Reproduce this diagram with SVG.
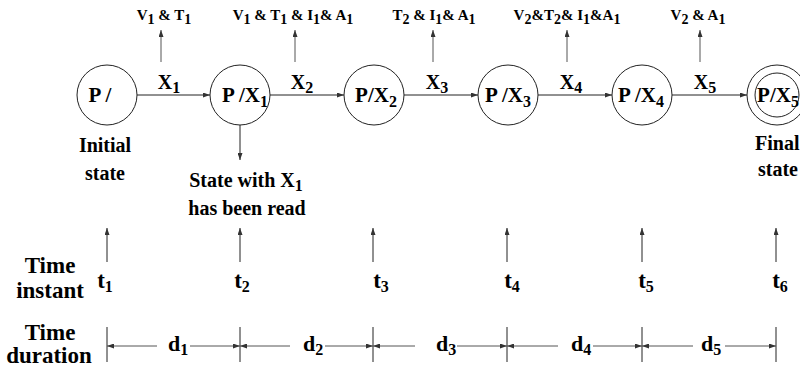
<svg xmlns="http://www.w3.org/2000/svg" width="800" height="369" viewBox="0 0 800 369">
<defs>
<marker id="ah" markerWidth="7" markerHeight="5" refX="7" refY="2.5" orient="auto" markerUnits="userSpaceOnUse">
<path d="M0,0 L7,2.5 L0,5 z" fill="#333"/>
</marker>
</defs>
<style>
text{font-family:"Liberation Serif","DejaVu Serif",serif;font-weight:bold;fill:#000}
.st{fill:#fff;stroke:#222;stroke-width:1}
.nl{font-size:21px;text-anchor:middle}
.tl{font-size:15px;text-anchor:middle}
.xl{font-size:20px;text-anchor:middle}
.lb{font-size:20px;text-anchor:middle}
.dl{font-size:22px;text-anchor:middle}
.big{font-size:23px;text-anchor:middle}
.ti{font-size:23px;text-anchor:middle}
.sub{font-size:14px}
.sb{font-size:16px}
.c{stroke:#222;stroke-width:1;fill:none}
.a{marker-end:url(#ah)}
.g{stroke:#555}
</style>
<rect width="800" height="369" fill="#fff"/>

<g id="connectors">
<line class="c a" x1="137" y1="95" x2="210" y2="95"/>
<line class="c a" x1="270" y1="95" x2="344" y2="95"/>
<line class="c a" x1="404" y1="95" x2="478" y2="95"/>
<line class="c a" x1="538" y1="95" x2="612" y2="95"/>
<line class="c a" x1="672" y1="95" x2="747" y2="95"/>
<line class="c a g" x1="161" y1="62" x2="161" y2="30"/>
<line class="c a g" x1="295" y1="62" x2="295" y2="30"/>
<line class="c a g" x1="433" y1="62" x2="433" y2="30"/>
<line class="c a g" x1="567" y1="62" x2="567" y2="30"/>
<line class="c a g" x1="700" y1="62" x2="700" y2="30"/>
<line class="c a" x1="240" y1="125" x2="240" y2="160"/>
<line class="c a" x1="107" y1="262" x2="107" y2="228"/>
<line class="c a" x1="240" y1="262" x2="240" y2="228"/>
<line class="c a" x1="373" y1="262" x2="373" y2="228"/>
<line class="c a" x1="507" y1="262" x2="507" y2="228"/>
<line class="c a" x1="642" y1="262" x2="642" y2="228"/>
<line class="c a" x1="776" y1="262" x2="776" y2="228"/>
</g>

<g id="durations">
<g class="c">
<line x1="107" y1="327" x2="107" y2="362"/>
<line x1="240" y1="327" x2="240" y2="362"/>
<line x1="373" y1="327" x2="373" y2="362"/>
<line x1="507" y1="327" x2="507" y2="362"/>
<line x1="642" y1="327" x2="642" y2="362"/>
<line x1="776" y1="327" x2="776" y2="362"/>
</g>
<g class="c g">
<line x1="157" y1="346" x2="107" y2="346" marker-end="url(#ah)"/>
<line x1="190" y1="346" x2="240" y2="346" marker-end="url(#ah)"/>
<line x1="290" y1="346" x2="240" y2="346" marker-end="url(#ah)"/>
<line x1="325" y1="346" x2="373" y2="346" marker-end="url(#ah)"/>
<line x1="415" y1="346" x2="373" y2="346" marker-end="url(#ah)"/>
<line x1="457" y1="346" x2="507" y2="346" marker-end="url(#ah)"/>
<line x1="558" y1="346" x2="507" y2="346" marker-end="url(#ah)"/>
<line x1="593" y1="346" x2="642" y2="346" marker-end="url(#ah)"/>
<line x1="693" y1="346" x2="642" y2="346" marker-end="url(#ah)"/>
<line x1="725" y1="346" x2="776" y2="346" marker-end="url(#ah)"/>
</g>
<text class="dl" x="178" y="351">d<tspan class="sb" dy="4">1</tspan></text>
<text class="dl" x="313" y="351">d<tspan class="sb" dy="4">2</tspan></text>
<text class="dl" x="446" y="351">d<tspan class="sb" dy="4">3</tspan></text>
<text class="dl" x="581" y="351">d<tspan class="sb" dy="4">4</tspan></text>
<text class="dl" x="711" y="351">d<tspan class="sb" dy="4">5</tspan></text>
</g>

<g id="n1">
<circle class="st" cx="107" cy="95" r="30"/>
<text class="nl" x="100" y="102">P /</text>
</g>
<g id="n2">
<circle class="st" cx="240" cy="95" r="30"/>
<text class="nl" x="245" y="102">P /X<tspan class="sb" dy="5">1</tspan></text>
</g>
<g id="n3">
<circle class="st" cx="374" cy="95" r="30"/>
<text class="nl" x="376" y="102">P/X<tspan class="sb" dy="5">2</tspan></text>
</g>
<g id="n4">
<circle class="st" cx="508" cy="95" r="30"/>
<text class="nl" x="508" y="102">P /X<tspan class="sb" dy="5">3</tspan></text>
</g>
<g id="n5">
<circle class="st" cx="642" cy="95" r="30"/>
<text class="nl" x="641" y="102">P /X<tspan class="sb" dy="5">4</tspan></text>
</g>
<g id="n6">
<circle class="st" cx="777" cy="95" r="30"/>
<circle class="st" cx="777" cy="95" r="22"/>
<text class="nl" x="778" y="102">P/X<tspan class="sb" dy="5">5</tspan></text>
</g>

<g id="edge-labels">
<text class="xl" x="169" y="89">X<tspan class="sb" dy="4">1</tspan></text>
<text class="xl" x="302" y="89">X<tspan class="sb" dy="4">2</tspan></text>
<text class="xl" x="437" y="89">X<tspan class="sb" dy="4">3</tspan></text>
<text class="xl" x="571" y="89">X<tspan class="sb" dy="4">4</tspan></text>
<text class="xl" x="705" y="89">X<tspan class="sb" dy="4">5</tspan></text>
</g>

<g id="outputs">
<text class="tl" x="164" y="20">V<tspan class="sub" dy="4">1</tspan><tspan dy="-4"> &amp; T</tspan><tspan class="sub" dy="4">1</tspan></text>
<text class="tl" x="293" y="20">V<tspan class="sub" dy="4">1</tspan><tspan dy="-4"> &amp; T</tspan><tspan class="sub" dy="4">1</tspan><tspan dy="-4"> &amp; I</tspan><tspan class="sub" dy="4">1</tspan><tspan dy="-4">&amp; A</tspan><tspan class="sub" dy="4">1</tspan></text>
<text class="tl" x="434" y="20">T<tspan class="sub" dy="4">2</tspan><tspan dy="-4"> &amp; I</tspan><tspan class="sub" dy="4">1</tspan><tspan dy="-4">&amp; A</tspan><tspan class="sub" dy="4">1</tspan></text>
<text class="tl" x="567" y="20">V<tspan class="sub" dy="4">2</tspan><tspan dy="-4">&amp;T</tspan><tspan class="sub" dy="4">2</tspan><tspan dy="-4">&amp; I</tspan><tspan class="sub" dy="4">1</tspan><tspan dy="-4">&amp;A</tspan><tspan class="sub" dy="4">1</tspan></text>
<text class="tl" x="698" y="20">V<tspan class="sub" dy="4">2</tspan><tspan dy="-4"> &amp; A</tspan><tspan class="sub" dy="4">1</tspan></text>
</g>

<g id="state-labels">
<text class="lb" x="105" y="152">Initial</text>
<text class="lb" x="105" y="180">state</text>
<text class="lb" x="246" y="187">State with X<tspan class="sb" dy="4">1</tspan></text>
<text class="lb" x="247" y="215">has been read</text>
<text class="lb" x="755" y="150" style="text-anchor:start">Final</text>
<text class="lb" x="758" y="176" style="text-anchor:start">state</text>
</g>

<g id="time-labels">
<text class="big" x="50" y="273">Time</text>
<text class="big" x="50" y="298">instant</text>
<text class="big" x="50" y="340">Time</text>
<text class="big" x="49" y="363">duration</text>
<text class="ti" x="105" y="288">t<tspan class="sb" dy="4">1</tspan></text>
<text class="ti" x="242" y="288">t<tspan class="sb" dy="4">2</tspan></text>
<text class="ti" x="381" y="288">t<tspan class="sb" dy="4">3</tspan></text>
<text class="ti" x="512" y="288">t<tspan class="sb" dy="4">4</tspan></text>
<text class="ti" x="646" y="288">t<tspan class="sb" dy="4">5</tspan></text>
<text class="ti" x="780" y="288">t<tspan class="sb" dy="4">6</tspan></text>
</g>
</svg>
